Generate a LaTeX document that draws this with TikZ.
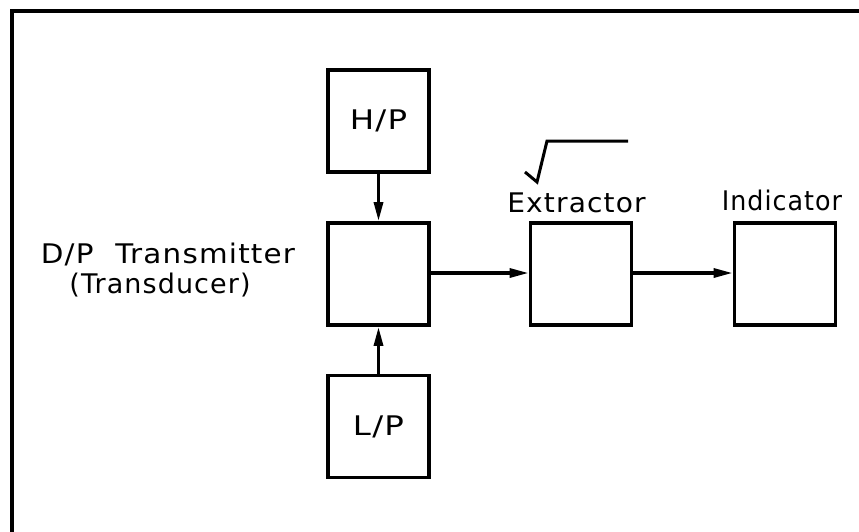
\documentclass[tikz,border=0pt]{standalone}
\usepackage{fontspec}
\setmainfont[LetterSpace=4]{DejaVu Sans}
\usetikzlibrary{arrows.meta}
\begin{document}
\begin{tikzpicture}[x=1pt,y=-1pt,
  blockbox/.style={draw,line width=3.8pt,minimum width=101pt,minimum height=102pt,inner sep=0pt},
  lbl/.style={font=\fontsize{27}{32}\selectfont,inner sep=0pt},
  conn/.style={line width=3.2pt,-{Triangle[length=19pt,width=9pt]}}]
\useasboundingbox (0,0) rectangle (859,531);
\begin{scope}
\clip (0,0) rectangle (859,531);
\draw[line width=3.2pt] (12,11) rectangle (900,600);
\end{scope}
\node[blockbox] (hp) at (378.5,121) {};
\node[lbl] (hpt) at (hp.center) {\scalebox{1.2}[1]{H/P}};
\node[blockbox] (dp) at (378.5,274) {};
\node[blockbox] (lp) at (378.5,426.5) {};
\node[lbl] (lpt) at (lp.center) {\scalebox{1.2}[1]{L/P}};
\node[blockbox] (ext) at (581,274) {};
\node[blockbox] (ind) at (785,274) {};
\node[lbl,anchor=base] (extt) at (576.5,212) {\scalebox{1.04}[1]{Extractor}};
\node[lbl,anchor=base] (indt) at (782,210) {\scalebox{0.94}[1]{Indicator}};
\node[lbl,anchor=base] (dp1) at (168,263) {\scalebox{1.09}[1]{D/P\hspace{20pt}Transmitter}};
\node[lbl,anchor=base] (dp2) at (160,293) {(Transducer)};
\draw[conn] (hp.south) -- (dp.north);
\draw[conn] (lp.north) -- (dp.south);
\draw[conn] (dp.east |- 0,273) -- (ext.west |- 0,273);
\draw[conn] (ext.east |- 0,273) -- (ind.west |- 0,273);
\draw[line width=3pt,line join=miter] (525,172) -- (537,182) -- (547,141) -- (628,141);
\end{tikzpicture}
\end{document}
